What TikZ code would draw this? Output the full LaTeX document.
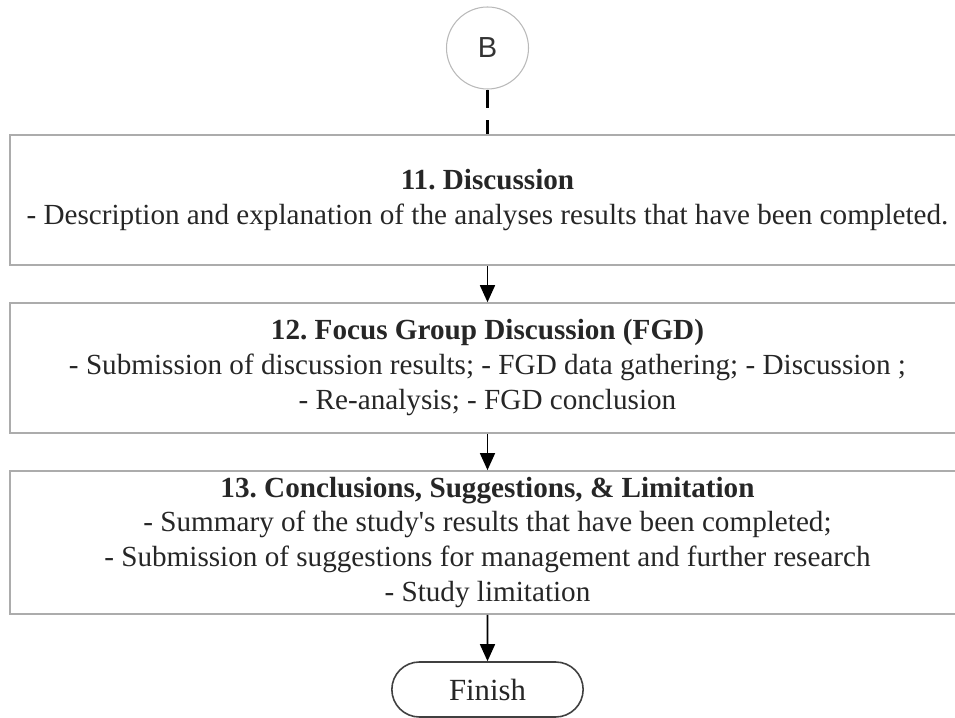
\documentclass[tikz,border=0pt]{standalone}
\usepackage{fontspec}
\setmainfont{Liberation Serif}
\newfontfamily\connfont{Liberation Sans}
\usetikzlibrary{arrows.meta,shapes.misc}
\frenchspacing
\begin{document}
\begin{tikzpicture}[
                stage/.style={draw=gray!65, line width=0.9pt, minimum width=19.1cm, align=center, text=black!85, font=\fontsize{16.6}{19.9}\selectfont},
                arr/.style={-{Triangle[length=0.34cm, width=0.3cm]}, line width=0.9pt}]
                \useasboundingbox (0,0) rectangle (19.1,-14.36);
                \node[draw=gray!55, circle, line width=0.6pt, minimum size=1.64cm, font=\connfont\fontsize{16.5}{18}\selectfont, text=black!80] (conB) at (9.75,-0.96) {B};
                \node[stage, minimum height=2.6cm] (disc) at (9.75,-4.0) {\textbf{11. Discussion}\\- Description and explanation of the analyses results that have been completed.};
                \node[stage, minimum height=2.6cm] (fgd) at (9.75,-7.36) {\textbf{12. Focus Group Discussion (FGD)}\\- Submission of discussion results; - FGD data gathering; - Discussion ;\\- Re-analysis; - FGD conclusion};
                \node[stage, minimum height=2.82cm] (concl) at (9.75,-10.85) {\textbf{13. Conclusions, Suggestions, \& Limitation}\\- Summary of the study\textquotesingle s results that have been completed;\\- Submission of suggestions for management and further research\\- Study limitation};
                \node[draw=black!75, line width=0.9pt, rounded rectangle, minimum width=4.06cm, minimum height=1.1cm, font=\fontsize{17.5}{20}\selectfont, text=black!85] (finish) at (9.75,-13.79) {Finish};
                \draw[black, line width=1.2pt, dash pattern=on 0.37cm off 0.24cm] (conB) -- (disc);
                \draw[arr] (disc) -- (fgd);
                \draw[arr] (fgd) -- (concl);
                \draw[arr] (concl) -- (finish);
            \end{tikzpicture}
\end{document}
